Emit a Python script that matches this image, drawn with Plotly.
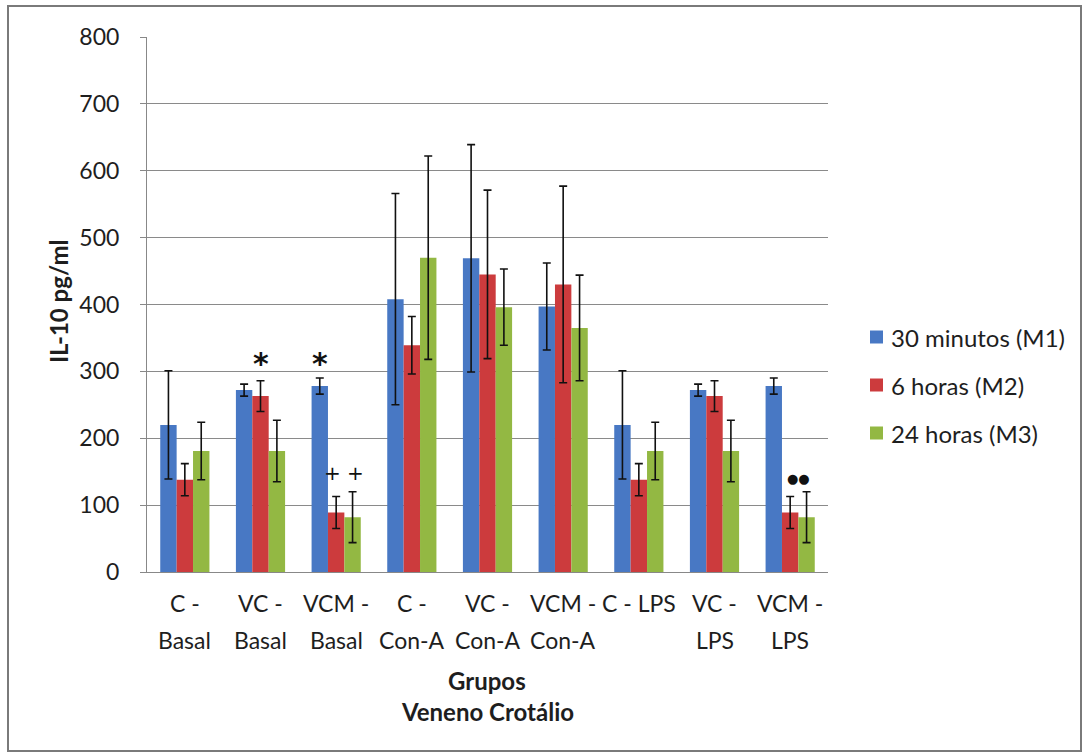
import plotly.graph_objects as go

# Groups (two-line category labels drawn under the axis)
groups = ["C - Basal", "VC - Basal", "VCM - Basal", "C - Con-A", "VC - Con-A",
          "VCM - Con-A", "C - LPS", "VC - LPS", "VCM - LPS"]
label_top = ["C -", "VC -", "VCM -", "C -", "VC -", "VCM -", "C - LPS", "VC -", "VCM -"]
label_bottom = ["Basal", "Basal", "Basal", "Con-A", "Con-A", "Con-A", "", "LPS", "LPS"]

# IL-10 (pg/ml), mean and error per time point
m1_mean = [220, 272, 278, 408, 469, 397, 220, 272, 278]
m1_err = [81, 9, 12, 158, 170, 65, 81, 9, 12]
m2_mean = [138, 263, 89, 339, 445, 430, 138, 263, 89]
m2_err = [24, 23, 24, 43, 126, 147, 24, 23, 24]
m3_mean = [181, 181, 82, 470, 396, 365, 181, 181, 82]
m3_err = [43, 46, 38, 152, 57, 79, 43, 46, 38]

series_names = ["30 minutos (M1)", "6 horas (M2)", "24 horas (M3)"]
series_colors = ["#4878c4", "#cc3b3d", "#93b843"]

y_ticks = [0, 100, 200, 300, 400, 500, 600, 700, 800]

W, H = 1088, 755
L, R, T, B = 147, 828, 37, 572  # plot area in pixels
FONT = "Lato"
TXT = "#1e1e1e"
FS = 24


def px_x(p):
    return (p - L) / (R - L)


def px_y(p):
    return (B - p) / (B - T)


fig = go.Figure()
for name, color, mean, err in zip(series_names, series_colors,
                                  [m1_mean, m2_mean, m3_mean],
                                  [m1_err, m2_err, m3_err]):
    fig.add_trace(go.Bar(
        x=groups, y=mean, name=name, showlegend=False,
        marker=dict(color=color, line=dict(width=0)),
        error_y=dict(type="data", array=err, visible=True,
                     color="#111111", thickness=1.6, width=4),
    ))

annotations = []
shapes = []

# category labels, two lines each
for g, t1, t2 in zip(groups, label_top, label_bottom):
    annotations.append(dict(x=g, y=0, xref="x", yref="y", text=t1, showarrow=False,
                            yanchor="middle", yshift=-31,
                            font=dict(family=FONT, size=FS - 1, color=TXT)))
    if t2:
        annotations.append(dict(x=g, y=0, xref="x", yref="y", text=t2, showarrow=False,
                                yanchor="middle", yshift=-68,
                                font=dict(family=FONT, size=FS - 1, color=TXT)))

# significance markers
bar_px = (R - L) / len(groups) * 0.65 / 3
marks = [("VC - Basal", 312, "<b>*</b>", 0, 30), ("VCM - Basal", 312, "<b>*</b>", -bar_px, 30),
         ("VCM - Basal", 148, "+ +", bar_px / 2, 20), ("VCM - LPS", 140, "●●", bar_px / 2, 13)]
for g, yv, txt, dx, fs in marks:
    annotations.append(dict(x=g, y=yv, xref="x", yref="y", text=txt, showarrow=False,
                            xshift=dx, xanchor="center", yanchor="middle",
                            font=dict(family="DejaVu Sans", size=fs, color="#111")))

# axis titles
annotations.append(dict(x=px_x(487), y=px_y(680), xref="paper", yref="paper", text="<b>Grupos</b>",
                        showarrow=False, xanchor="center", yanchor="middle",
                        font=dict(family=FONT, size=FS, color=TXT)))
annotations.append(dict(x=px_x(487), y=px_y(711), xref="paper", yref="paper",
                        text="<b>Veneno Crotálio</b>", showarrow=False,
                        xanchor="center", yanchor="middle",
                        font=dict(family=FONT, size=FS, color=TXT)))
annotations.append(dict(x=px_x(58), y=px_y(302), xref="paper", yref="paper", text="<b>IL-10 pg/ml</b>",
                        showarrow=False, textangle=-90, xanchor="center", yanchor="middle",
                        font=dict(family=FONT, size=FS, color=TXT)))

# legend: colour square + label per series
legend_rows = [337, 385, 433]
for name, color, yc in zip(series_names, series_colors, legend_rows):
    shapes.append(dict(type="rect", xref="paper", yref="paper",
                       x0=px_x(870), x1=px_x(883), y0=px_y(yc + 6.5), y1=px_y(yc - 6.5),
                       fillcolor=color, line=dict(width=0)))
    annotations.append(dict(x=px_x(889), y=px_y(yc), xref="paper", yref="paper", text=name,
                            showarrow=False, xanchor="left", yanchor="middle",
                            font=dict(family=FONT, size=FS, color=TXT)))

# outer frame
shapes.append(dict(type="rect", xref="paper", yref="paper",
                   x0=px_x(8), x1=px_x(1081), y0=px_y(6), y1=px_y(751),
                   line=dict(color="#7a7a7a", width=2)))

fig.update_layout(
    width=W, height=H,
    margin=dict(l=L, r=W - R, t=T, b=H - B),
    paper_bgcolor="white", plot_bgcolor="white",
    barmode="group", bargap=0.35, bargroupgap=0,
    showlegend=False,
    xaxis=dict(showticklabels=False, showline=True, linecolor="#888", linewidth=1,
               ticks="", range=[-0.5, len(groups) - 0.5]),
    yaxis=dict(range=[0, 800], tickvals=y_ticks, ticks="outside", ticklen=6, tickcolor="#888",
               showgrid=True, gridcolor="#8a8a8a", gridwidth=1, showline=True, linecolor="#888",
               tickfont=dict(family=FONT, size=FS - 1, color=TXT), ticklabelstandoff=16,
               zeroline=False),
    annotations=annotations,
    shapes=shapes,
)

fig.write_html("out.html")
